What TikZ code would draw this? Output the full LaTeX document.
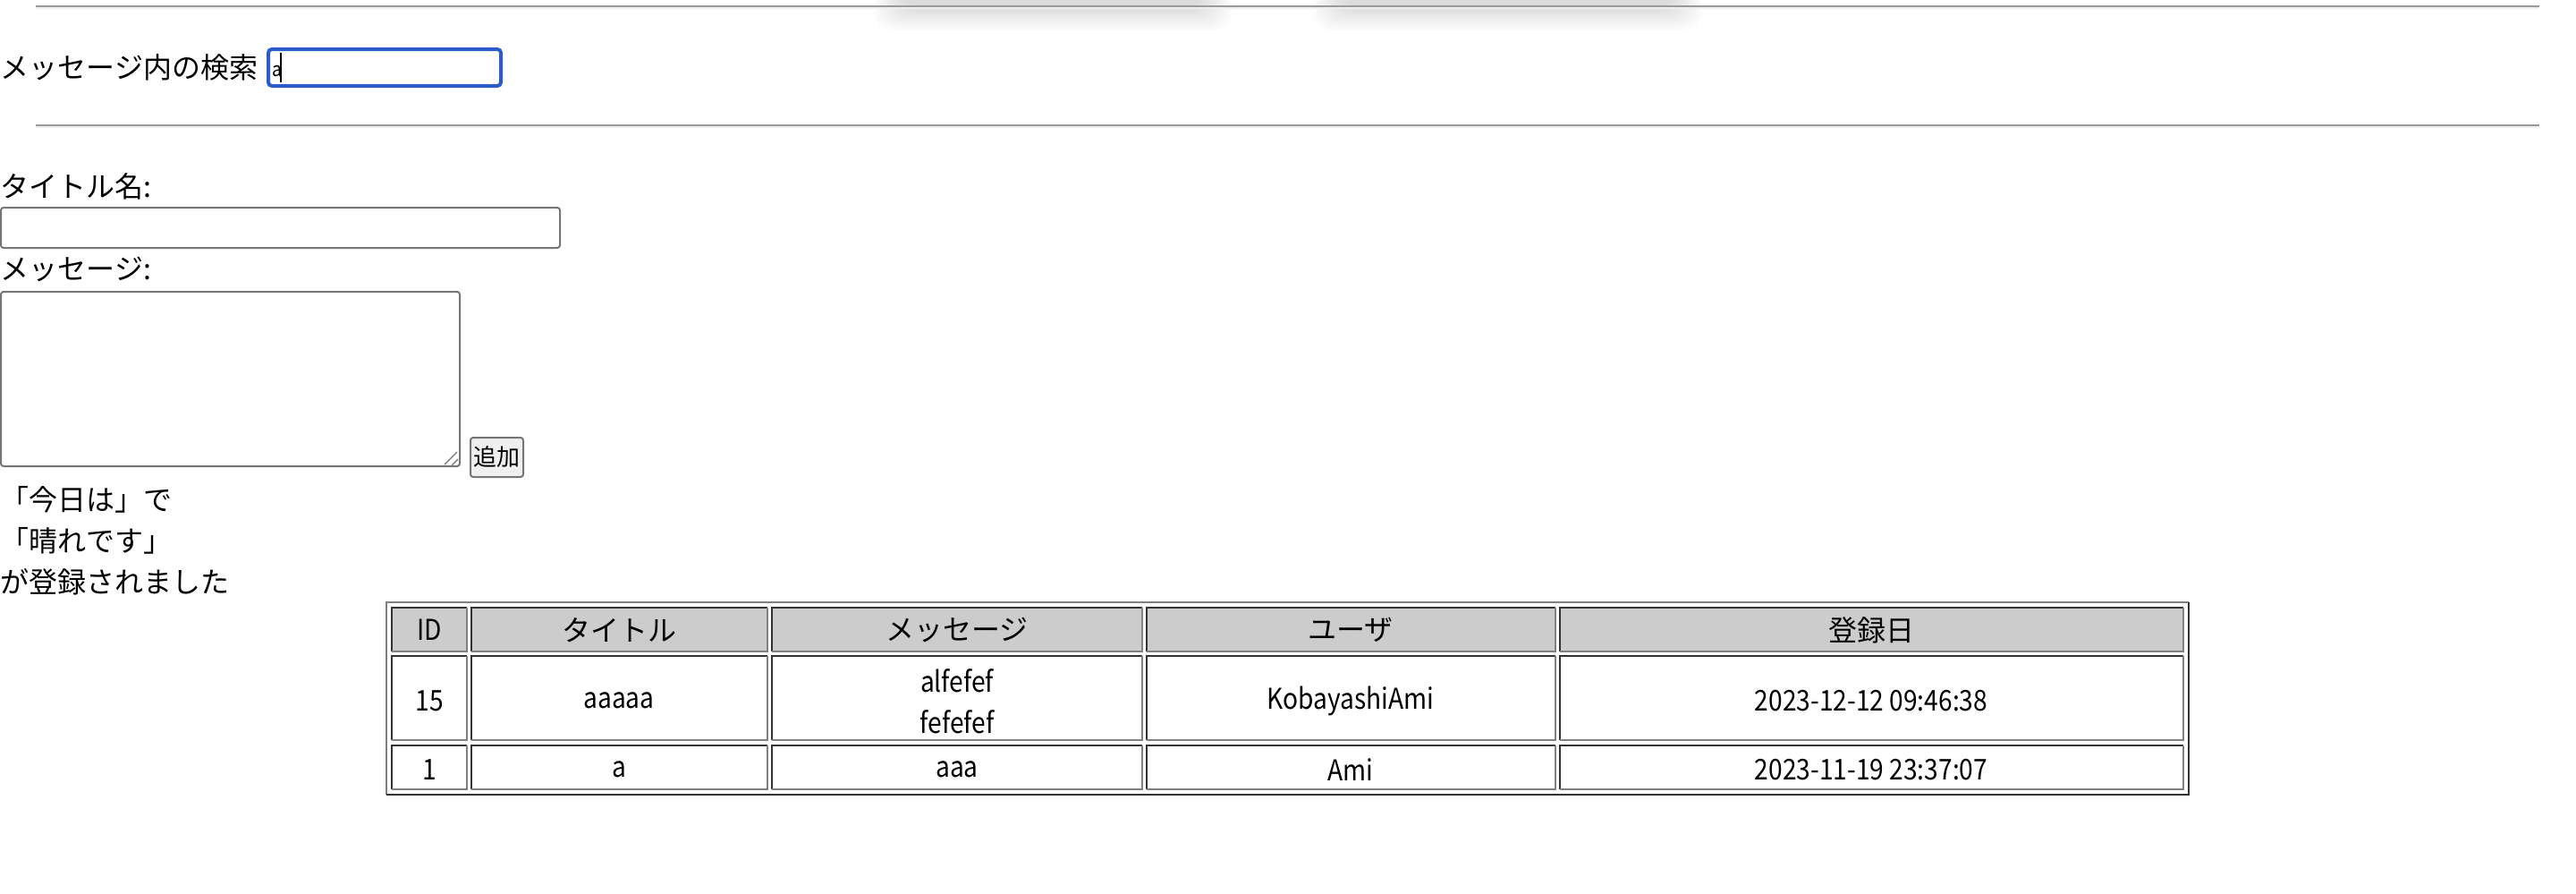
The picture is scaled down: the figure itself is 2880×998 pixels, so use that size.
\documentclass[tikz,border=0pt]{standalone}
\usepackage{fontspec}
\setmainfont{Noto Sans CJK JP}
\newfontfamily\latin{Noto Sans CJK JP}[FakeStretch=0.88]

\definecolor{hrdark}{HTML}{9A9A9A}
\definecolor{hrlight}{HTML}{EEEEEE}
\definecolor{focusblue}{HTML}{2B5CC9}
\definecolor{inputgray}{HTML}{767676}
\definecolor{btnfill}{HTML}{EFEFEF}
\definecolor{headfill}{HTML}{CCCCCC}
\definecolor{celldark}{HTML}{333333}
\definecolor{cellgray}{HTML}{808080}

\tikzset{
  txt/.style={anchor=west, inner sep=0pt, font=\fontsize{8pt}{9.6pt}\selectfont},
  celltxt/.style={inner sep=0pt, align=center, font=\fontsize{8pt}{11.5pt}\selectfont\latin},
  headtxt/.style={inner sep=0pt, font=\fontsize{8pt}{9.6pt}\selectfont},
  inputbox/.style={draw=inputgray, line width=0.5pt, rounded corners=0.75pt},
  shadelayer/.style={fill=black, opacity=0.012, rounded corners=5pt},
}

% one table cell: x1 y1 x2 y2 fill
\newcommand{\tcell}[5]{%
  \fill[#5] (#1,#2) rectangle (#3,#4);
  \draw[celldark] (#1,#4) -- (#1,#2) -- (#3,#2);
  \draw[cellgray] (#3,#2) -- (#3,#4) -- (#1,#4);}

\begin{document}
\begin{tikzpicture}[x=0.25pt, y=-0.25pt, line width=0.5pt]
  \useasboundingbox (0,0) rectangle (2880,998);
  \fill[white] (0,0) rectangle (2880,998);

  % shadows of the tabs above
  \begin{scope}
    \clip (0,0) rectangle (2880,200);
    \foreach \i in {0,...,11} {
      \fill[shadelayer] (977+3*\i,-100) rectangle (1377-3*\i,34-2.3*\i);
      \fill[shadelayer] (1468+3*\i,-100) rectangle (1903-3*\i,34-2.3*\i);
    }
  \end{scope}

  % rules
  \coordinate (hr1l) at (40,7);
  \coordinate (hr1r) at (2839,7);
  \coordinate (hr2l) at (40,140);
  \coordinate (hr2r) at (2839,140);
  \draw[hrdark, line width=0.75pt] (hr1l) -- (hr1r);
  \draw[hrlight] ([yshift=-0.6pt]hr1l) -- ([yshift=-0.6pt]hr1r);
  \draw[hrdark, line width=0.75pt] (hr2l) -- (hr2r);
  \draw[hrlight] ([yshift=-0.6pt]hr2l) -- ([yshift=-0.6pt]hr2r);

  % search
  \node[txt] (searchlbl) at (0,75) {メッセージ内の検索};
  \draw[focusblue, line width=1pt, rounded corners=1pt] (300,55) rectangle (560,96);
  \node[txt, font=\fontsize{5.5pt}{7pt}\selectfont\latin] (searchval) at (303,80) {a};
  \draw[black, line width=0.3pt] (314,59) -- (314,92);

  % form
  \node[txt] (titlelbl) at (0,208) {タイトル名:};
  \draw[inputbox] (1,232) rectangle (626,277);
  \node[txt] (msglbl) at (0,301) {メッセージ:};
  \draw[inputbox] (1,326) rectangle (514,521);
  \draw[cellgray, line width=0.35pt] (497,519) -- (511,505);
  \draw[cellgray, line width=0.35pt] (505,520) -- (512,513);
  \draw[inputbox, fill=btnfill] (526,489) rectangle (585,533);
  \node[headtxt, font=\fontsize{6.5pt}{8pt}\selectfont] (addbtn) at (555.5,511) {追加};

  % result message
  \node[txt] (done1) at (0,558) {「今日は」で};
  \node[txt] (done2) at (0,604) {「晴れです」};
  \node[txt] (done3) at (0,650) {が登録されました};

  % table
  \draw[cellgray] (432,888) -- (432,673) -- (2447,673);
  \draw[celldark] (2447,673) -- (2447,888) -- (432,888);
  \tcell{438}{679}{522}{728}{headfill}
  \tcell{527}{679}{858}{728}{headfill}
  \tcell{863}{679}{1277}{728}{headfill}
  \tcell{1282}{679}{1739}{728}{headfill}
  \tcell{1744}{679}{2441}{728}{headfill}
  \tcell{438}{733}{522}{827}{white}
  \tcell{527}{733}{858}{827}{white}
  \tcell{863}{733}{1277}{827}{white}
  \tcell{1282}{733}{1739}{827}{white}
  \tcell{1744}{733}{2441}{827}{white}
  \tcell{438}{833}{522}{882}{white}
  \tcell{527}{833}{858}{882}{white}
  \tcell{863}{833}{1277}{882}{white}
  \tcell{1282}{833}{1739}{882}{white}
  \tcell{1744}{833}{2441}{882}{white}

  \node[celltxt] (hid) at (480,704) {ID};
  \node[headtxt] (htitle) at (692,704) {タイトル};
  \node[headtxt] (hmsg) at (1070,704) {メッセージ};
  \node[headtxt] (huser) at (1510,704) {ユーザ};
  \node[headtxt] (hdate) at (2092,704) {登録日};

  \node[celltxt] (id15) at (480,783) {15};
  \node[celltxt] (title15) at (692,783) {aaaaa};
  \node[celltxt] (msg15) at (1070,784) {alfefef\\fefefef};
  \node[celltxt] (user15) at (1510,783) {KobayashiAmi};
  \node[celltxt] (date15) at (2092,783) {2023-12-12 09:46:38};

  \node[celltxt] (id1) at (480,860) {1};
  \node[celltxt] (title1) at (692,860) {a};
  \node[celltxt] (msg1) at (1070,860) {aaa};
  \node[celltxt] (user1) at (1510,860) {Ami};
  \node[celltxt] (date1) at (2092,860) {2023-11-19 23:37:07};
\end{tikzpicture}
\end{document}
